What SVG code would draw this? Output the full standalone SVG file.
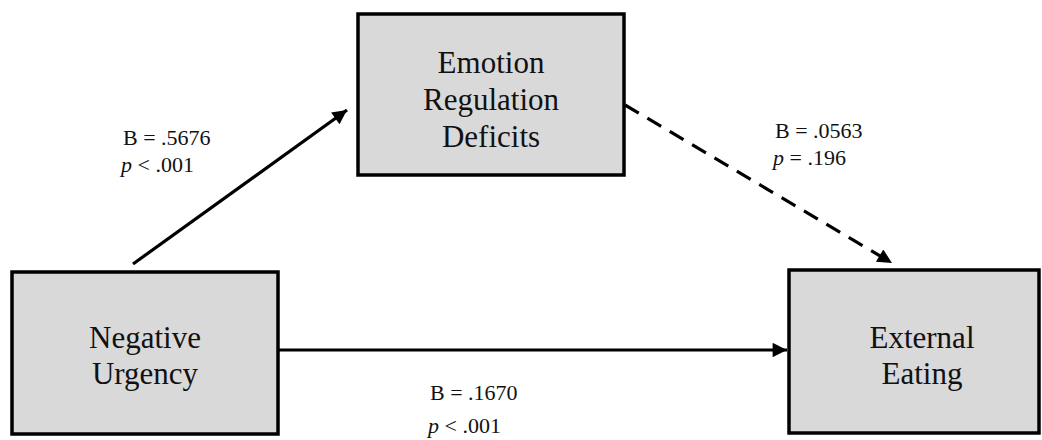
<svg xmlns="http://www.w3.org/2000/svg" width="1042" height="440" viewBox="0 0 1042 440">
<style>
.box{fill:#d9d9d9;stroke:#000;stroke-width:3.5}
.nt{font-family:"Liberation Serif","Times New Roman",serif;font-size:31px;fill:#111;text-anchor:middle}
.lb{font-family:"Liberation Serif","Times New Roman",serif;font-size:22px;fill:#111}
.ln{stroke:#000;stroke-width:3.2;fill:none}
</style>
<defs>
<marker id="ah" viewBox="0 0 10 10" refX="10" refY="5" markerWidth="5" markerHeight="4.5" orient="auto" markerUnits="strokeWidth">
<path d="M0,0 L10,5 L0,10 z" fill="#000"/>
</marker>
</defs>
<rect width="1042" height="440" fill="#fff"/>
<g id="connectors">
<line class="ln" x1="133" y1="264" x2="347" y2="110" marker-end="url(#ah)"/>
<line class="ln" x1="625" y1="105" x2="892" y2="263" stroke-dasharray="16,10" marker-end="url(#ah)"/>
<line class="ln" x1="279" y1="350" x2="787" y2="350" marker-end="url(#ah)"/>
</g>
<g id="node-erd">
<rect class="box" x="358" y="14" width="266" height="161"/>
<text class="nt" x="491" y="73">Emotion</text>
<text class="nt" x="491" y="110">Regulation</text>
<text class="nt" x="491" y="147">Deficits</text>
</g>
<g id="node-nu">
<rect class="box" x="12" y="272" width="266" height="162"/>
<text class="nt" x="145" y="348">Negative</text>
<text class="nt" x="145" y="384">Urgency</text>
</g>
<g id="node-ee">
<rect class="box" x="789" y="270" width="250" height="163"/>
<text class="nt" x="922" y="348">External</text>
<text class="nt" x="922" y="384">Eating</text>
</g>
<g id="labels">
<text class="lb" x="123" y="145">B = .5676</text>
<text class="lb" x="121" y="172"><tspan font-style="italic">p</tspan> &lt; .001</text>
<text class="lb" x="775" y="138">B = .0563</text>
<text class="lb" x="773" y="165"><tspan font-style="italic">p</tspan> = .196</text>
<text class="lb" x="430" y="400">B = .1670</text>
<text class="lb" x="428" y="433"><tspan font-style="italic">p</tspan> &lt; .001</text>
</g>
</svg>
